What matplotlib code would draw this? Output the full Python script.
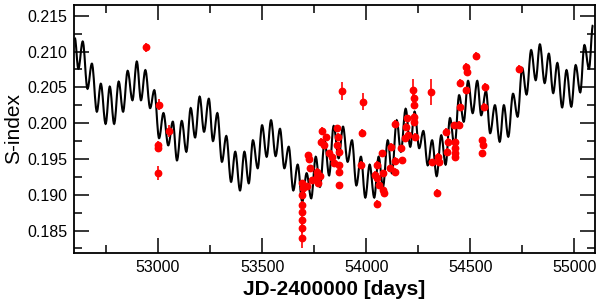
import matplotlib
matplotlib.use('Agg')
import matplotlib.pyplot as plt
from matplotlib.path import Path
from matplotlib.patches import PathPatch
from matplotlib.ticker import MultipleLocator, FormatStrFormatter

plt.rcParams['font.family'] = ['Liberation Sans', 'DejaVu Sans']

# model curve: turning points (peaks / troughs)
model_jd = [52600, 52617, 52638, 52661, 52682, 52706, 52725, 52748, 52768, 52789,
            52811, 52832, 52854, 52877, 52898, 52918, 52939, 52962, 52982, 53005,
            53026, 53049, 53071, 53091, 53114, 53136, 53157, 53178, 53200, 53221,
            53244, 53264, 53285, 53307, 53328, 53351, 53371, 53394, 53415, 53436,
            53456, 53479, 53500, 53522, 53543, 53565, 53586, 53607, 53628, 53650,
            53671, 53693, 53714, 53736, 53758, 53778, 53801, 53822, 53844, 53868,
            53889, 53911, 53932, 53953, 53975, 53996, 54017, 54039, 54060, 54081,
            54104, 54124, 54147, 54167, 54190, 54212, 54233, 54255, 54275, 54296,
            54317, 54339, 54361, 54382, 54403, 54425, 54447, 54469, 54490, 54512,
            54534, 54553, 54576, 54596, 54619, 54642, 54662, 54683, 54706, 54728,
            54750, 54771, 54793, 54815, 54835, 54858, 54878, 54899, 54919, 54942,
            54963, 54986, 55007, 55029, 55049, 55071, 55090]
model_s = [0.2119, 0.2076, 0.2114, 0.2048, 0.2083, 0.2016, 0.2055, 0.1999, 0.2051, 0.1999,
           0.2058, 0.2016, 0.2073, 0.2032, 0.2086, 0.2032, 0.2074, 0.2021, 0.2046, 0.1979,
           0.2014, 0.1969, 0.2002, 0.1948, 0.2003, 0.1960, 0.2021, 0.1980, 0.2037, 0.1988,
           0.2034, 0.1975, 0.2014, 0.1946, 0.1982, 0.1918, 0.1960, 0.1906, 0.1960, 0.1916,
           0.1976, 0.1937, 0.1997, 0.1953, 0.2004, 0.1954, 0.1992, 0.1937, 0.1967, 0.1906,
           0.1942, 0.1890, 0.1930, 0.1895, 0.1953, 0.1911, 0.1975, 0.1927, 0.1996, 0.1951,
           0.1995, 0.1946, 0.1976, 0.1913, 0.1953, 0.1896, 0.1942, 0.1896, 0.1953, 0.1911,
           0.1976, 0.1930, 0.2004, 0.1960, 0.2020, 0.1967, 0.2016, 0.1965, 0.1989, 0.1941,
           0.1976, 0.1926, 0.1983, 0.1942, 0.2007, 0.1967, 0.2039, 0.2002, 0.2059, 0.2014,
           0.2059, 0.2011, 0.2045, 0.1986, 0.2025, 0.1974, 0.2025, 0.1981, 0.2041, 0.2009,
           0.2077, 0.2040, 0.2102, 0.2060, 0.2110, 0.2056, 0.2097, 0.2042, 0.2084, 0.2022,
           0.2074, 0.2023, 0.2081, 0.2043, 0.2109, 0.2076, 0.2137]

# observations
obs_jd = [52941, 53005, 53000, 53002, 53000, 53053,
          53694, 53697, 53694, 53694, 53694, 53694, 53694, 53694,
          53716, 53721, 53725, 53730, 53740, 53762, 53769, 53764, 53778,
          53788, 53783, 53807, 53799, 53823, 53836, 53844, 53860, 53865,
          53860, 53868, 53868, 53871, 53868, 53884, 53983, 53980, 53977,
          54052, 54044, 54052, 54076, 54081, 54060, 54079, 54084, 54052,
          54121, 54116, 54137, 54137, 54140, 54169, 54172, 54196, 54191,
          54201, 54188, 54223, 54231, 54231, 54231, 54228, 54236, 54313,
          54316, 54345, 54348, 54342, 54385, 54393, 54390, 54422, 54428,
          54425, 54425, 54428, 54445, 54449, 54452, 54481, 54486, 54481,
          54529, 54569, 54566, 54557, 54561, 54557, 54734]
obs_s = [0.2106, 0.2026, 0.1970, 0.1965, 0.1930, 0.1989,
         0.1916, 0.1909, 0.1899, 0.1885, 0.1876, 0.1864, 0.1853, 0.1839,
         0.1912, 0.1955, 0.1950, 0.1937, 0.1920, 0.1925, 0.1916, 0.1932, 0.1926,
         0.1989, 0.1974, 0.1980, 0.1969, 0.1958, 0.1953, 0.1944, 0.1993, 0.1981,
         0.1969, 0.1960, 0.1941, 0.1932, 0.1913, 0.2045, 0.2030, 0.1986, 0.1942,
         0.1942, 0.1928, 0.1923, 0.1958, 0.1930, 0.1913, 0.1906, 0.1902, 0.1887,
         0.1967, 0.1937, 0.1947, 0.1932, 0.1999, 0.1965, 0.1948, 0.2007, 0.1995,
         0.1983, 0.1979, 0.2046, 0.2035, 0.2026, 0.2009, 0.2002, 0.1981, 0.2044,
         0.1945, 0.1953, 0.1946, 0.1903, 0.1988, 0.1974, 0.1960, 0.1997, 0.1973,
         0.1965, 0.1958, 0.1953, 0.1998, 0.2022, 0.2056, 0.2079, 0.2071, 0.2046,
         0.2094, 0.2051, 0.2023, 0.1976, 0.1970, 0.1958, 0.2076]
obs_err = [0.0006, 0.0008, 0.0005, 0.0005, 0.0010, 0.0009,
           0.0005, 0.0005, 0.0005, 0.0006, 0.0006, 0.0006, 0.0006, 0.0013,
           0.0005, 0.0005, 0.0005, 0.0005, 0.0005, 0.0005, 0.0005, 0.0005, 0.0005,
           0.0005, 0.0005, 0.0005, 0.0005, 0.0005, 0.0005, 0.0005, 0.0005, 0.0005,
           0.0005, 0.0005, 0.0005, 0.0005, 0.0005, 0.0013, 0.0012, 0.0006, 0.0005,
           0.0005, 0.0005, 0.0005, 0.0005, 0.0005, 0.0005, 0.0005, 0.0005, 0.0006,
           0.0005, 0.0005, 0.0005, 0.0005, 0.0005, 0.0005, 0.0005, 0.0005, 0.0005,
           0.0005, 0.0005, 0.0016, 0.0005, 0.0005, 0.0005, 0.0005, 0.0005, 0.0018,
           0.0005, 0.0005, 0.0005, 0.0005, 0.0005, 0.0005, 0.0005, 0.0005, 0.0005,
           0.0005, 0.0005, 0.0005, 0.0005, 0.0005, 0.0005, 0.0005, 0.0005, 0.0005,
           0.0005, 0.0005, 0.0005, 0.0005, 0.0005, 0.0005, 0.0005]

fig = plt.figure(figsize=(6, 3.03), dpi=100)
ax = fig.add_axes([0.1233, 0.166, 0.8684, 0.8175])

# smooth line through the turning points (flat tangent at each one)
verts = [(model_jd[0], model_s[0])]
codes = [Path.MOVETO]
for i in range(1, len(model_jd)):
    x0, y0 = model_jd[i - 1], model_s[i - 1]
    x1, y1 = model_jd[i], model_s[i]
    h = 0.364 * (x1 - x0)
    verts += [(x0 + h, y0), (x1 - h, y1), (x1, y1)]
    codes += [Path.CURVE4] * 3
ax.add_patch(PathPatch(Path(verts, codes), fill=False, lw=1.5, edgecolor='black', zorder=2))

ax.errorbar(obs_jd, obs_s, yerr=obs_err, fmt='o', color='red', ms=4.6,
            elinewidth=1.2, capsize=0, zorder=3)

ax.set_xlim(52596, 55100)
ax.set_ylim(0.1819, 0.2165)
ax.xaxis.set_major_locator(MultipleLocator(500))
ax.xaxis.set_minor_locator(MultipleLocator(250))
ax.yaxis.set_major_locator(MultipleLocator(0.005))
ax.yaxis.set_minor_locator(MultipleLocator(0.0025))
ax.yaxis.set_major_formatter(FormatStrFormatter('%.3f'))
ax.tick_params(which='both', direction='in', top=True, right=True, width=1.1,
               labelsize=11.5, pad=5)
ax.tick_params(which='major', length=11)
ax.tick_params(which='minor', length=6)
for s in ax.spines.values():
    s.set_linewidth(1.3)

ax.set_xlabel('JD-2400000 [days]', fontsize=15, fontweight='bold', labelpad=4)
ax.set_ylabel('S-index', fontsize=15, labelpad=3)

fig.savefig('out.png', dpi=100)
